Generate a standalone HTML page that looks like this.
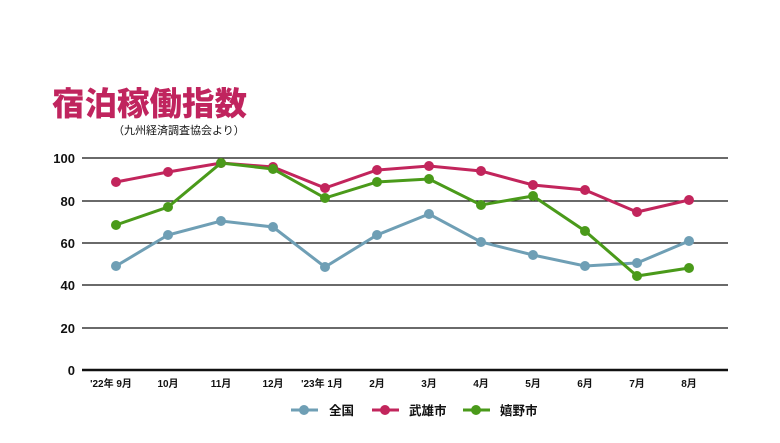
<!DOCTYPE html>
<html><head><meta charset="utf-8"><style>
body{margin:0;background:#fff;width:780px;height:438px;overflow:hidden}
svg text{font-family:"Liberation Sans","Noto Sans CJK JP",sans-serif;font-weight:bold;fill:#111}
</style></head><body>
<svg width="780" height="438" viewBox="0 0 780 438">
<text x="52" y="115" style="font-size:32.5px;fill:#c0245e;font-weight:900">宿泊稼働指数</text>
<text x="113" y="134" style="font-size:11px;font-weight:normal">（九州経済調査協会より）</text>
<g stroke="#111" stroke-width="1.3">
<line x1="82" x2="728" y1="158" y2="158"/><line x1="82" x2="728" y1="201" y2="201"/>
<line x1="82" x2="728" y1="243" y2="243"/><line x1="82" x2="728" y1="285" y2="285"/>
<line x1="82" x2="728" y1="328" y2="328"/><line x1="82" x2="728" y1="370" y2="370" stroke-width="2.5"/>
</g>
<g style="font-size:13px" text-anchor="end">
<text x="75" y="163">100</text><text x="75" y="206">80</text><text x="75" y="248">60</text>
<text x="75" y="290">40</text><text x="75" y="333">20</text><text x="75" y="375">0</text>
</g>
<g style="font-size:10px" text-anchor="middle">
<text x="111" y="387">'22年 9月</text><text x="168" y="387">10月</text><text x="221" y="387">11月</text>
<text x="273" y="387">12月</text><text x="322" y="387">'23年 1月</text><text x="377" y="387">2月</text>
<text x="429" y="387">3月</text><text x="481" y="387">4月</text><text x="533" y="387">5月</text>
<text x="585" y="387">6月</text><text x="637" y="387">7月</text><text x="689" y="387">8月</text>
</g>
<g fill="none" stroke-width="3">
<polyline stroke="#6f9fb5" points="116,266 168,235 221,221 273,227 325,267 377,235 429,214 481,242 533,255 585,266 637,263 689,241"/>
<polyline stroke="#c2255c" points="116,182 168,172 221,163 273,167 325,188 377,170 429,166 481,171 533,185 585,190 637,212 689,200"/>
<polyline stroke="#4a9a1a" points="116,225 168,207 221,163 273,169 325,198 377,182 429,179 481,205 533,196 585,231 637,276 689,268"/>
</g>
<g fill="#6f9fb5"><circle cx="116" cy="266" r="5"/><circle cx="168" cy="235" r="5"/><circle cx="221" cy="221" r="5"/><circle cx="273" cy="227" r="5"/><circle cx="325" cy="267" r="5"/><circle cx="377" cy="235" r="5"/><circle cx="429" cy="214" r="5"/><circle cx="481" cy="242" r="5"/><circle cx="533" cy="255" r="5"/><circle cx="585" cy="266" r="5"/><circle cx="637" cy="263" r="5"/><circle cx="689" cy="241" r="5"/></g>
<g fill="#c2255c"><circle cx="116" cy="182" r="5"/><circle cx="168" cy="172" r="5"/><circle cx="221" cy="163" r="5"/><circle cx="273" cy="167" r="5"/><circle cx="325" cy="188" r="5"/><circle cx="377" cy="170" r="5"/><circle cx="429" cy="166" r="5"/><circle cx="481" cy="171" r="5"/><circle cx="533" cy="185" r="5"/><circle cx="585" cy="190" r="5"/><circle cx="637" cy="212" r="5"/><circle cx="689" cy="200" r="5"/></g>
<g fill="#4a9a1a"><circle cx="116" cy="225" r="5"/><circle cx="168" cy="207" r="5"/><circle cx="221" cy="163" r="5"/><circle cx="273" cy="169" r="5"/><circle cx="325" cy="198" r="5"/><circle cx="377" cy="182" r="5"/><circle cx="429" cy="179" r="5"/><circle cx="481" cy="205" r="5"/><circle cx="533" cy="196" r="5"/><circle cx="585" cy="231" r="5"/><circle cx="637" cy="276" r="5"/><circle cx="689" cy="268" r="5"/></g>
<g stroke-width="3">
<line x1="291" x2="318" y1="410" y2="410" stroke="#6f9fb5"/><circle cx="304" cy="410" r="5" fill="#6f9fb5"/>
<line x1="372" x2="399" y1="410" y2="410" stroke="#c2255c"/><circle cx="385" cy="410" r="5" fill="#c2255c"/>
<line x1="463" x2="490" y1="410" y2="410" stroke="#4a9a1a"/><circle cx="476" cy="410" r="5" fill="#4a9a1a"/>
</g>
<g style="font-size:12.5px"><text x="329" y="415">全国</text><text x="409" y="415">武雄市</text><text x="500" y="415">嬉野市</text></g>
</svg>
</body></html>
